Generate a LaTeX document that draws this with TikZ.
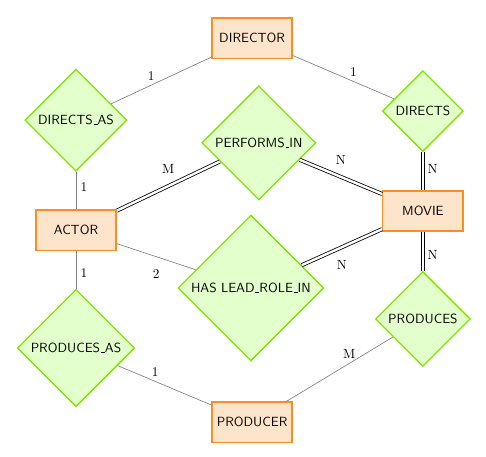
\documentclass[tikz,border=0pt]{standalone}
\usetikzlibrary{shapes.geometric}

\newcommand{\usc}{\kern.06em\vbox{\hrule width.3em}}

\begin{document}
\begin{tikzpicture}[
  font=\sffamily,
  entity/.style={draw=centline, fill=centfill, line width=1pt, minimum width=2.12cm, minimum height=1.06cm, align=center},
  rel/.style={diamond, aspect=1, draw=crelline, fill=crelfill, line width=1pt, inner sep=1pt, align=center},
  partial/.style={draw=gray, line width=0.5pt},
  total/.style={draw=black, double, double distance=1.8pt, line width=0.6pt},
  lbl/.style={font=\rmfamily}
]

\definecolor{centline}{RGB}{255,140,30}
\definecolor{centfill}{RGB}{255,228,204}
\definecolor{crelline}{RGB}{128,230,0}
\definecolor{crelfill}{RGB}{226,255,204}

\useasboundingbox (0,0) rectangle (12.86,-12.09);

% entities
\node[entity] (director) at (6.67,-1.01) {DIRECTOR};
\node[entity] (actor) at (2.01,-6.09) {ACTOR};
\node[entity] (movie) at (11.19,-5.58) {MOVIE};
\node[entity] (producer) at (6.67,-11.17) {PRODUCER};

% relationships
\node[rel, minimum size=2.70cm] (directsas) at (2.01,-3.18) {DIRECTS\usc AS};
\node[rel, minimum size=2.14cm] (directs) at (11.19,-2.94) {DIRECTS};
\node[rel, minimum size=3.02cm] (performs) at (6.85,-3.78) {PERFORMS\usc IN};
\node[rel, minimum size=3.86cm] (leadrole) at (6.64,-7.62) {HAS LEAD\usc ROLE\usc IN};
\node[rel, minimum size=3.10cm] (producesas) at (2.01,-9.21) {PRODUCES\usc AS};
\node[rel, minimum size=2.51cm] (produces) at (11.19,-8.44) {PRODUCES};

% connectors
\draw[partial] (director) -- node[lbl, above, pos=0.6] {1} (directsas);
\draw[partial] (director) -- node[lbl, above, pos=0.6] {1} (directs);
\draw[partial] (directsas) -- node[lbl, right, pos=0.41] {1} (actor);
\draw[total] (actor) -- node[lbl, above=6pt, pos=0.5] {M} (performs);
\draw[total] (performs) -- node[lbl, above=6pt, pos=0.5] {N} (movie);
\draw[total] (directs) -- node[lbl, right, pos=0.44] {N} (movie);
\draw[partial] (actor) -- node[lbl, below=6pt, pos=0.5] {2} (leadrole);
\draw[total] (leadrole) -- node[lbl, below=6pt, pos=0.5] {N} (movie);
\draw[total] (movie) -- node[lbl, right, pos=0.6] {N} (produces);
\draw[partial] (actor) -- node[lbl, right, pos=0.575] {1} (producesas);
\draw[partial] (producesas) -- node[lbl, above, pos=0.4] {1} (producer);
\draw[partial] (produces) -- node[lbl, above, pos=0.41] {M} (producer);

\end{tikzpicture}
\end{document}
